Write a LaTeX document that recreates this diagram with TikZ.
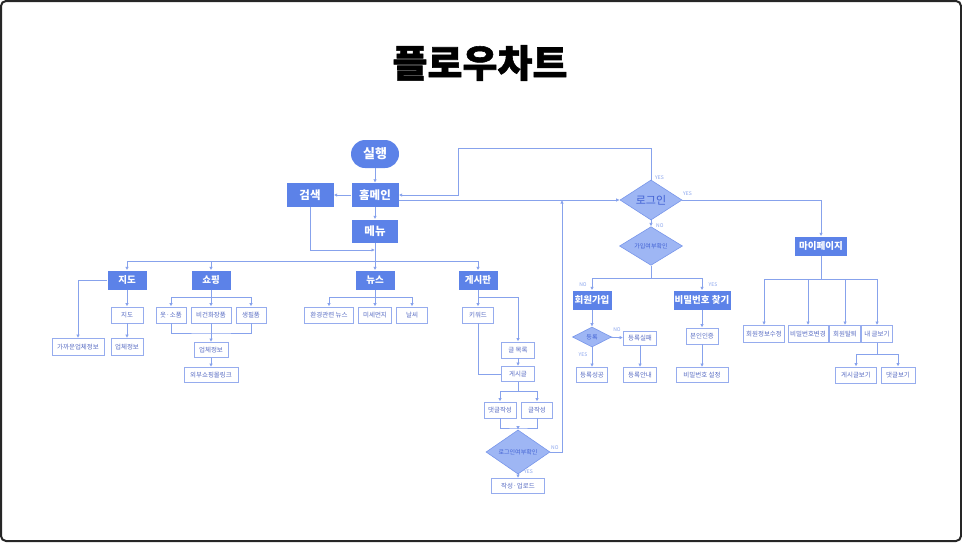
\documentclass[tikz,border=0pt]{standalone}
\usepackage{fontspec}
\setmainfont{Noto Sans CJK KR}
\usetikzlibrary{arrows.meta,shapes.geometric}
\definecolor{mainblue}{RGB}{92,130,232}
\definecolor{lineblue}{RGB}{135,162,236}
\definecolor{boxline}{RGB}{150,172,238}
\definecolor{subtext}{RGB}{90,110,196}
\definecolor{diafill}{RGB}{158,182,244}
\definecolor{diadraw}{RGB}{120,150,234}
\definecolor{diatext}{RGB}{66,98,212}

\begin{document}
\begin{tikzpicture}[x=1pt, y=-1pt, >={Latex[length=3.5pt,width=3.5pt]},
        main/.style={rectangle, fill=mainblue, text=white, font=\bfseries\fontsize{9.5}{9.5}\selectfont, minimum width=39pt, minimum height=19pt, inner sep=1pt},
        big/.style={main, font=\bfseries\fontsize{11.5}{11.5}\selectfont, minimum width=47pt, minimum height=24pt},
        sub/.style={rectangle, draw=boxline, line width=0.9pt, fill=white, text=subtext, font=\fontsize{6.5}{6.5}\selectfont, minimum height=16pt, inner xsep=1pt},
        dia/.style={diamond, fill=diafill, draw=diadraw, line width=0.6pt, text=diatext, inner sep=0pt, font=\fontsize{6}{6}\selectfont},
        tag/.style={text=lineblue, font=\fontsize{5}{5}\selectfont, inner sep=0pt},
        link/.style={draw=lineblue, line width=0.9pt}]
    \useasboundingbox (0,0) rectangle (962,542);
    \draw[black!85, line width=2pt, rounded corners=5pt] (1,1) rectangle (961,541);
    \node (title) at (480,63) {\bfseries\fontsize{38}{38}\selectfont\addfontfeature{FakeBold=1.5}플로우차트};

    \node[big, rounded corners=14pt, minimum width=48pt, minimum height=28pt, font=\bfseries\fontsize{13}{13}\selectfont] (run) at (375,154) {실행};
    \node[big] (home) at (375,195) {홈메인};
    \node[big] (search) at (310,195) {검색};
    \node[big, minimum width=46pt, minimum height=23pt] (menu) at (375,231) {메뉴};
    \node[main] (jido) at (127,280) {지도};
    \node[main] (shop) at (211,280) {쇼핑};
    \node[main] (news) at (375,280) {뉴스};
    \node[main] (board) at (478,280) {게시판};

    \node[sub, minimum width=32pt] (jidosub) at (127,315) {지도};
    \node[sub, minimum width=32pt, minimum height=17pt] (jidoinfo) at (127,347) {업체정보};
    \node[sub, minimum width=52pt, minimum height=17pt] (near) at (78,347) {가까운업체정보};
    \node[sub, minimum width=30pt] (clothes) at (171,315) {옷·소품};
    \node[sub, minimum width=40pt] (vegan) at (211,315) {비건화장품};
    \node[sub, minimum width=30pt] (daily) at (251,315) {생필품};
    \node[sub, minimum width=34pt, minimum height=15pt] (shopinfo) at (211,350) {업체정보};
    \node[sub, minimum width=54pt, minimum height=15pt] (extlink) at (211,375) {외부쇼핑몰링크};
    \node[sub, minimum width=49pt] (envnews) at (329,315) {환경관련 뉴스};
    \node[sub, minimum width=33pt] (dust) at (375,315) {미세먼지};
    \node[sub, minimum width=31pt] (weather) at (412,315) {날씨};
    \node[sub, minimum width=31pt] (keyword) at (478,315) {키워드};
    \node[sub, minimum width=33pt] (list) at (518,350) {글 목록};
    \node[sub, minimum width=33pt, minimum height=15pt] (post) at (518,374) {게시글};
    \node[sub, minimum width=32pt] (comment) at (500,410) {댓글작성};
    \node[sub, minimum width=31pt] (write) at (537,410) {글작성};
    \node[dia, minimum width=64pt, minimum height=32pt] (loginchk) at (518,452) {로그인여부확인};
    \node[sub, minimum width=53pt, minimum height=15pt] (upload) at (518,486) {작성·업로드};

    \node[dia, minimum width=62pt, minimum height=33pt, font=\fontsize{11}{11}\selectfont] (login) at (651,200) {로그인};
    \node[dia, minimum width=63pt, minimum height=33pt] (joinchk) at (651,246) {가입여부확인};
    \node[main] (join) at (592,300) {회원가입};
    \node[main, minimum width=57pt] (findpw) at (702,300) {비밀번호 찾기};
    \node[dia, minimum width=39pt, minimum height=20pt] (reg) at (592,337) {등록};
    \node[sub, minimum width=33pt, minimum height=14pt] (fail) at (640,338) {등록실패};
    \node[sub, minimum width=31pt, minimum height=15pt] (ok) at (592,375) {등록성공};
    \node[sub, minimum width=33pt, minimum height=15pt] (guide) at (640,375) {등록안내};
    \node[sub, minimum width=32pt] (auth) at (702,336) {본인인증};
    \node[sub, minimum width=52pt, minimum height=15pt] (setpw) at (702,375) {비밀번호 설정};

    \node[main, minimum width=52pt] (mypage) at (821,246) {마이페이지};
    \node[sub, minimum width=41pt, minimum height=17pt] (editinfo) at (764,334) {회원정보수정};
    \node[sub, minimum width=40pt, minimum height=17pt] (changepw) at (808,334) {비밀번호변경};
    \node[sub, minimum width=31pt, minimum height=17pt] (leave) at (845,334) {회원탈퇴};
    \node[sub, minimum width=31pt, minimum height=17pt] (myposts) at (877,334) {내 글보기};
    \node[sub, minimum width=41pt] (viewposts) at (856,375) {게시글보기};
    \node[sub, minimum width=34pt] (viewcomm) at (898,375) {댓글보기};

    \coordinate (mjoin) at (375,250);
    \coordinate (bus1) at (375,261);
    \coordinate (bus2) at (211,297);
    \coordinate (m2) at (211,333);
    \coordinate (bus3) at (375,297);
    \coordinate (bus4) at (478,297);
    \coordinate (bus5) at (518,391);
    \coordinate (m5) at (518,428);
    \coordinate (noup) at (562,200);
    \coordinate (loop) at (458,148);
    \coordinate (bus6) at (651,278);
    \coordinate (bus7) at (821,279);
    \coordinate (bus8) at (877,354);

    \draw[link, ->] (run) -- (home);
    \draw[link, ->] (home) -- (search);
    \draw[link, ->] (home) -- (menu);
    \draw[link, ->] (search) |- (mjoin);
    \draw[link] (menu) -- (bus1);
    \draw[link, ->] (bus1) -| (jido);
    \draw[link, ->] (bus1) -| (shop);
    \draw[link, ->] (bus1) -- (news);
    \draw[link, ->] (bus1) -| (board);

    \draw[link, ->] (jido) -- (jidosub);
    \draw[link, ->] (jidosub) -- (jidoinfo);
    \draw[link, ->] (jido.west) -| (near);

    \draw[link] (shop) -- (bus2);
    \draw[link, ->] (bus2) -| (clothes);
    \draw[link, ->] (bus2) -- (vegan);
    \draw[link, ->] (bus2) -| (daily);
    \draw[link] (clothes) |- (m2) -| (daily);
    \draw[link, ->] (vegan) -- (shopinfo);
    \draw[link, ->] (shopinfo) -- (extlink);

    \draw[link] (news) -- (bus3);
    \draw[link, ->] (bus3) -| (envnews);
    \draw[link, ->] (bus3) -- (dust);
    \draw[link, ->] (bus3) -| (weather);

    \draw[link, ->] (board) -- (keyword);
    \draw[link, ->] (bus4) -| (list);
    \draw[link] (keyword) |- (post);
    \draw[link, ->] (list) -- (post);
    \draw[link] (post) -- (bus5);
    \draw[link, ->] (bus5) -| (comment);
    \draw[link, ->] (bus5) -| (write);
    \draw[link] (comment) |- (m5) -| (write);
    \draw[link, ->] (m5) -- (loginchk);
    \draw[link, ->] (loginchk) -- (upload);
    \draw[link, ->] (loginchk.east) -| (noup);
    \node[tag, anchor=west] (ynote1) at (524,472) {YES};
    \node[tag, anchor=west] (nnote1) at (551,448) {NO};

    \draw[link, ->] ([yshift=-5pt]home.east) -- (login.west);
    \draw[link, ->] (login.north) |- (loop) |- (home.east);
    \draw[link, ->] (login.east) -| (mypage);
    \draw[link, ->] (login) -- (joinchk);
    \node[tag, anchor=west] (ynote2) at (655,178) {YES};
    \node[tag, anchor=west] (ynote3) at (683,194) {YES};
    \node[tag, anchor=west] (nnote2) at (656,226) {NO};

    \draw[link] (joinchk) -- (bus6);
    \draw[link, ->] (bus6) -| (join);
    \draw[link, ->] (bus6) -| (findpw);
    \node[tag] (nnote3) at (583,285) {NO};
    \node[tag] (ynote4) at (713,285) {YES};

    \draw[link, ->] (join) -- (reg);
    \draw[link, ->] (reg) -- (fail);
    \draw[link, ->] (reg) -- (ok);
    \draw[link, ->] (fail) -- (guide);
    \node[tag] (nnote4) at (617,330) {NO};
    \node[tag] (ynote5) at (583,355) {YES};
    \draw[link, ->] (findpw) -- (auth);
    \draw[link, ->] (auth) -- (setpw);

    \draw[link] (mypage) -- (bus7);
    \draw[link, ->] (bus7) -| (editinfo);
    \draw[link, ->] (bus7) -| (changepw);
    \draw[link, ->] (bus7) -| (leave);
    \draw[link, ->] (bus7) -| (myposts);
    \draw[link] (myposts) -- (bus8);
    \draw[link, ->] (bus8) -| (viewposts);
    \draw[link, ->] (bus8) -| (viewcomm);
\end{tikzpicture}
\end{document}
